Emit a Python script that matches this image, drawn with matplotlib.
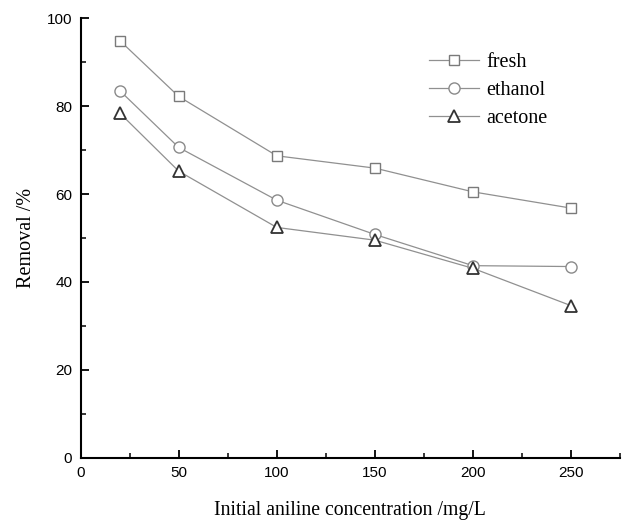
import matplotlib
matplotlib.use("Agg")
import matplotlib.pyplot as plt
from matplotlib.ticker import MultipleLocator

# data
conc = [20, 50, 100, 150, 200, 250]
fresh = [94.9, 82.2, 68.7, 65.9, 60.5, 56.8]
ethanol = [83.5, 70.6, 58.6, 50.8, 43.7, 43.5]
acetone = [78.4, 65.2, 52.4, 49.5, 43.1, 34.6]

fig = plt.figure(figsize=(6.22, 5.22), dpi=100)
ax = fig.add_axes([0.1297, 0.1232, 0.8671, 0.8418])

line_col = "#909090"
ax.plot(conc, fresh, color=line_col, lw=0.9, marker="s", ms=7, mfc="white",
        mec="#7a7a7a", mew=1.0, label="fresh")
ax.plot(conc, ethanol, color=line_col, lw=0.9, marker="o", ms=8, mfc="white",
        mec="#8a8a8a", mew=1.0, label="ethanol")
ax.plot(conc, acetone, color=line_col, lw=0.9, marker="^", ms=8.5, mfc="white",
        mec="#333333", mew=1.3, label="acetone")

ax.set_xlim(0, 275)
ax.set_ylim(0, 100)
ax.xaxis.set_major_locator(MultipleLocator(50))
ax.xaxis.set_minor_locator(MultipleLocator(25))
ax.yaxis.set_major_locator(MultipleLocator(20))
ax.yaxis.set_minor_locator(MultipleLocator(10))

for s in ["top", "right"]:
    ax.spines[s].set_visible(False)
for s in ["left", "bottom"]:
    ax.spines[s].set_linewidth(1.5)
    ax.spines[s].set_color("black")

ax.tick_params(which="major", direction="in", length=6, width=1.3, labelsize=11, pad=6)
ax.tick_params(which="minor", direction="in", length=3.5, width=1.1)
for lab in ax.get_xticklabels() + ax.get_yticklabels():
    lab.set_family("Liberation Sans")

ax.set_xlabel("Initial aniline concentration /mg/L", family="Liberation Serif",
              fontsize=14.2, labelpad=15)
ax.set_ylabel("Removal /%", family="Liberation Serif", fontsize=14.5, labelpad=8)

leg = ax.legend(loc="upper left", bbox_to_anchor=(0.646, 0.921), frameon=False,
                borderaxespad=0, borderpad=0,
                prop={"family": "Liberation Serif", "size": 14.5},
                handlelength=2.5, handletextpad=0.35, labelspacing=0.45)

fig.savefig("out.png", dpi=100)
